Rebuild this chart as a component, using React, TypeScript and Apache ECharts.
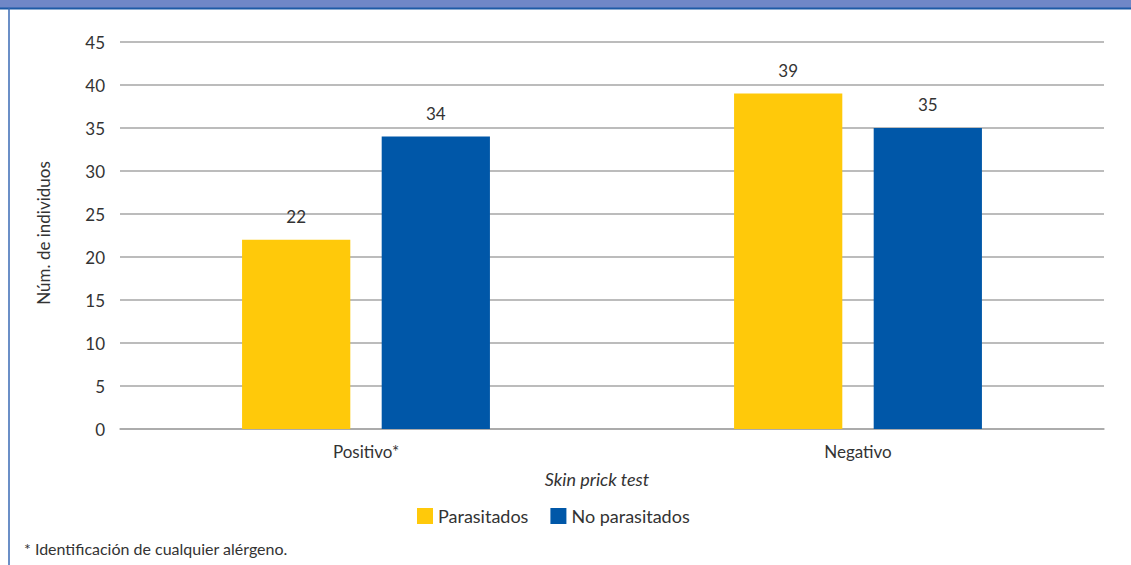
import React, { useEffect, useRef } from "react";
import * as echarts from "echarts";

const categories = ["Positivo*", "Negativo"];
const seriesParasitados = [22, 39];
const seriesNoParasitados = [34, 35];
const yTicks = [0, 5, 10, 15, 20, 25, 30, 35, 40, 45];

const FONT = "Lato, 'Noto Sans', sans-serif";
const TXT = "#333333";

export default function App() {
  const ref = useRef<HTMLDivElement>(null);
  useEffect(() => {
    if (!ref.current) return;
    const chart = echarts.init(ref.current, null, { renderer: "svg" });
    chart.setOption({
      animation: false,
      backgroundColor: "#ffffff",
      textStyle: { fontFamily: FONT },
      grid: { left: 120, right: 27, top: 42, bottom: 136, containLabel: false },
      xAxis: {
        type: "category",
        data: categories,
        axisLine: { lineStyle: { color: "#a6a6a6", width: 1.5 } },
        axisTick: { show: false },
        axisLabel: { color: TXT, fontSize: 17, margin: 14, fontFamily: FONT },
      },
      yAxis: {
        type: "value",
        min: yTicks[0],
        max: yTicks[yTicks.length - 1],
        interval: 5,
        axisLine: { show: false },
        axisTick: { show: false },
        axisLabel: { color: TXT, fontSize: 17, margin: 15, fontFamily: FONT },
        splitLine: { lineStyle: { color: "#a6a6a6", width: 1.5 } },
      },
      legend: {
        top: 502,
        left: 412,
        itemWidth: 16,
        itemHeight: 16,
        itemGap: 22,
        icon: "rect",
        textStyle: { color: TXT, fontSize: 18, fontFamily: FONT },
        data: ["Parasitados", "No parasitados"],
      },
      series: [
        {
          name: "Parasitados",
          type: "bar",
          data: seriesParasitados,
          barWidth: "22%",
          barGap: "29%",
          itemStyle: { color: "#FFC90A" },
          label: { show: true, position: "top", distance: 15, color: TXT, fontSize: 17, fontFamily: FONT },
        },
        {
          name: "No parasitados",
          type: "bar",
          data: seriesNoParasitados,
          barWidth: "22%",
          itemStyle: { color: "#0057A8" },
          label: { show: true, position: "top", distance: 15, color: TXT, fontSize: 17, fontFamily: FONT },
        },
      ],
      graphic: [
        { type: "rect", shape: { x: 0, y: 0, width: 1131, height: 8 }, style: { fill: "#6f87c7" } },
        { type: "line", shape: { x1: 0, y1: 8.5, x2: 1131, y2: 8.5 }, style: { stroke: "#1d5aa5", lineWidth: 2 } },
        { type: "line", shape: { x1: 9, y1: 8, x2: 9, y2: 565 }, style: { stroke: "#3a6ab5", lineWidth: 1.5 } },
        {
          type: "text",
          x: 43,
          y: 233,
          rotation: Math.PI / 2,
          style: { text: "Núm. de individuos", fill: TXT, font: `17px ${FONT}`, align: "center", verticalAlign: "middle" },
        },
        {
          type: "text",
          x: 597,
          y: 479,
          style: { text: "Skin prick test", fill: TXT, font: `italic 18px ${FONT}`, align: "center", verticalAlign: "middle" },
        },
        {
          type: "text",
          x: 24,
          y: 548,
          style: { text: "* Identificación de cualquier alérgeno.", fill: TXT, font: `16px ${FONT}`, align: "left", verticalAlign: "middle" },
        },
      ],
    });
    return () => chart.dispose();
  }, []);
  return <div ref={ref} style={{ position: "fixed", left: 0, top: 0, width: 1131, height: 565 }} />;
}
